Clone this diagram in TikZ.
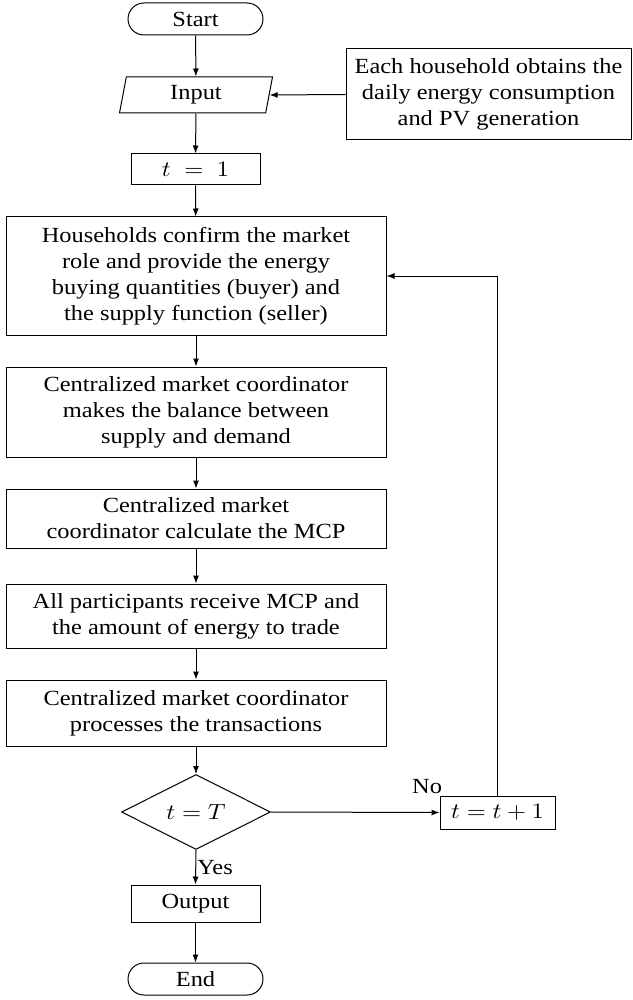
\documentclass[tikz,border=0pt]{standalone}
\usepackage{graphicx}
\usepackage{fontspec}
\setmainfont{Liberation Serif}[FakeStretch=1.13]
\usetikzlibrary{arrows.meta,shapes.geometric}
\newcommand\wmath[1]{\scalebox{1.12}[1]{$#1$}}
\begin{document}
\begin{tikzpicture}[x=0.5pt,y=-0.5pt,
  font=\fontsize{10.8}{13}\selectfont, line width=0.5pt,
  box/.style={draw, rectangle, align=center, inner sep=0pt},
  bigbox/.style={box, minimum width=190pt},
  term/.style={draw, rectangle, rounded corners=8pt, minimum width=67.5pt, minimum height=16pt, inner sep=0pt},
  io/.style={draw, trapezium, trapezium left angle=70, trapezium right angle=110, trapezium stretches body, minimum width=76.5pt, minimum height=18pt, inner sep=0pt},
  dec/.style={draw, diamond, aspect=2, minimum width=74.5pt, minimum height=37.5pt, inner sep=0pt},
  arr/.style={-{Latex[length=4pt,width=3pt]}}]
\useasboundingbox (0,0) rectangle (632,1000);
\node[term] (start) at (195.5,19) {Start};
\node[io] (input) at (196,95) {Input};
\node[box, minimum width=142.5pt, minimum height=45.5pt] (note) at (488.5,94.5) {Each household obtains the\\daily energy consumption\\and PV generation};
\node[box, minimum width=64.5pt, minimum height=15.5pt] (t1) at (195.5,169.5) {\wmath{t\;=\;1}};
\node[bigbox, minimum height=59pt] (b1) at (196,276) {Households confirm the market\\role and provide the energy\\buying quantities (buyer) and\\the supply function (seller)};
\node[bigbox, minimum height=45pt] (b2) at (196,412) {Centralized market coordinator\\makes the balance between\\supply and demand};
\node[bigbox, minimum height=29.5pt] (b3) at (196,518.5) {Centralized market\\coordinator calculate the MCP};
\node[bigbox, minimum height=32pt] (b4) at (196,616) {All participants receive MCP and\\the amount of energy to trade};
\node[bigbox, minimum height=33pt] (b5) at (196,713) {Centralized market coordinator\\processes the transactions};
\node[dec] (dec) at (196,812) {\wmath{t=T}};
\node[box, minimum width=57.5pt, minimum height=16.5pt] (tt1) at (497.5,812.5) {\wmath{t=t+1}};
\node[box, minimum width=64.5pt, minimum height=18.5pt] (out) at (195.5,903.5) {Output};
\node[term] (end) at (195.5,979) {End};
\node[anchor=south east, inner sep=0pt, xshift=1.5pt, yshift=0.8pt] (no) at (tt1.north west) {No};
\draw[arr] (start) -- (input);
\draw[arr] (note.west) -- (input.east);
\draw[arr] (input) -- (t1);
\draw[arr] (t1) -- (b1);
\draw[arr] (b1) -- (b2);
\draw[arr] (b2) -- (b3);
\draw[arr] (b3) -- (b4);
\draw[arr] (b4) -- (b5);
\draw[arr] (b5) -- (dec);
\draw[arr] (dec.east) -- (tt1.west);
\draw[arr] (dec.south) -- node[right, inner sep=0.5pt] {Yes} (out.north);
\draw[arr] (out) -- (end);
\draw[arr] (tt1.north) |- (b1.east);
\end{tikzpicture}
\end{document}
